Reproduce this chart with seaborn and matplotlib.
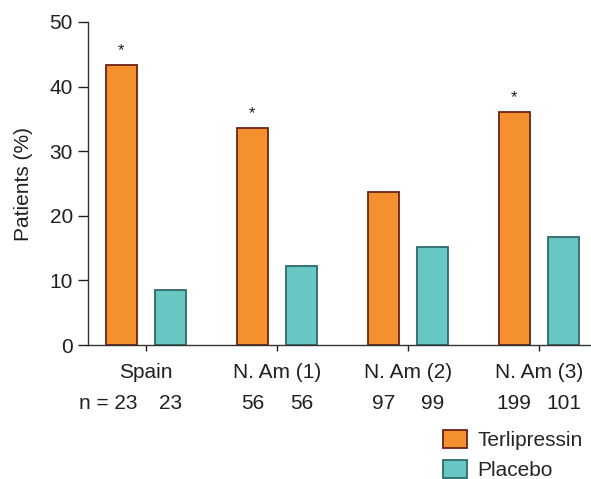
import pandas as pd
import matplotlib
matplotlib.use('Agg')
import matplotlib.pyplot as plt
import matplotlib.transforms as mtransforms
from matplotlib.patches import Patch
import seaborn as sns

# Data
studies = ['Spain', 'N. Am (1)', 'N. Am (2)', 'N. Am (3)']
terlipressin = [43.3, 33.6, 23.7, 36.1]
placebo = [8.5, 12.2, 15.1, 16.7]
n_terlipressin = ['23', '56', '97', '199']
n_placebo = ['23', '56', '99', '101']
significant = [True, True, False, True]

groups = ['Terlipressin', 'Placebo']
fill_colors = ['#F4912E', '#68C6C3']
edge_colors = ['#6A2416', '#2C6B6A']
txt = '#231F20'
fs = 15

df = pd.DataFrame({
    'study': studies * 2,
    'group': ['Terlipressin'] * 4 + ['Placebo'] * 4,
    'pct': terlipressin + placebo,
})

sns.set_style('ticks')
plt.rcParams['font.family'] = ['Liberation Sans', 'DejaVu Sans']

fig = plt.figure(figsize=(5.91, 4.79), dpi=100)
ax = fig.add_axes([0.149, 0.2797, 0.851, 0.6744])

sns.barplot(data=df, x='study', y='pct', hue='group', hue_order=groups,
            palette=fill_colors, saturation=1, width=0.756, gap=0.37,
            legend=False, ax=ax)

for cont, ec in zip(ax.containers, edge_colors):
    for bar in cont:
        bar.set_edgecolor(ec)
        bar.set_linewidth(1.3)

# significance markers above terlipressin bars
for bar, sig in zip(ax.containers[0], significant):
    if sig:
        x = bar.get_x() + bar.get_width() / 2
        ax.text(x, bar.get_height() + 1.1, '*', ha='center', va='bottom',
                fontsize=12, color=txt)

# n row under the category labels
trans = mtransforms.blended_transform_factory(ax.transData, ax.transAxes)
for i, (c0, c1) in enumerate(zip(ax.containers[0], ax.containers[1])):
    x0 = c0.get_x() + c0.get_width() / 2
    x1 = c1.get_x() + c1.get_width() / 2
    if i == 0:
        ax.text(x0 + 0.126, -0.18, 'n = ' + n_terlipressin[i], transform=trans,
                ha='right', va='center', fontsize=fs, color=txt)
    else:
        ax.text(x0, -0.18, n_terlipressin[i], transform=trans, ha='center',
                va='center', fontsize=fs, color=txt)
    ax.text(x1, -0.18, n_placebo[i], transform=trans, ha='center', va='center',
            fontsize=fs, color=txt)

ax.set_ylim(0, 50)
ax.set_xlim(-0.443, 3.397)
ax.set_yticks([0, 10, 20, 30, 40, 50])
ax.set_xlabel('')
ax.set_ylabel('Patients (%)', fontsize=fs, color=txt, labelpad=12)
ax.tick_params(axis='y', labelsize=fs, length=7, width=1, colors=txt, pad=4)
ax.tick_params(axis='x', labelsize=fs, length=4, width=1, colors=txt, pad=9)
sns.despine(ax=ax)
for s in ['left', 'bottom']:
    ax.spines[s].set_linewidth(1)
    ax.spines[s].set_color('#333333')

handles = [Patch(facecolor=f, edgecolor=e, linewidth=1.3) for f, e in zip(fill_colors, edge_colors)]
fig.legend(handles, groups, loc='upper left', bbox_to_anchor=(0.75, 0.103),
           frameon=False, fontsize=fs, handlelength=1.15, handleheight=0.96,
           handletextpad=0.5, labelspacing=0.5, borderaxespad=0, borderpad=0)

plt.savefig('out.png', dpi=100)
